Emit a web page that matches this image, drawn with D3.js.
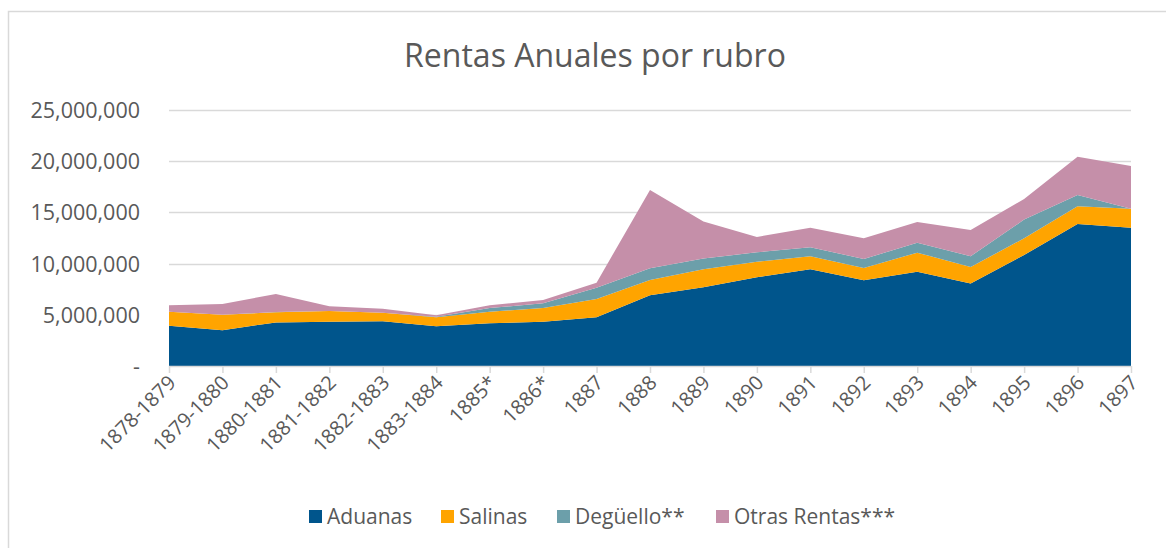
<!DOCTYPE html>
<html>
<head>
<meta charset="utf-8">
<script src="https://cdn.jsdelivr.net/npm/d3@7"></script>
<style>
  body { margin: 0; background: #fff; }
  text { font-family: "Open Sans", "Noto Sans", sans-serif; fill: #595959; }
</style>
</head>
<body>
<svg id="chart" width="1166" height="548"></svg>
<script>
// categories (periods)
var periods = ["1878-1879", "1879-1880", "1880-1881", "1881-1882", "1882-1883", "1883-1884",
  "1885*", "1886*", "1887", "1888", "1889", "1890", "1891", "1892", "1893", "1894", "1895", "1896", "1897"];

// series values (pesos)
var aduanas = [3940000, 3490000, 4260000, 4330000, 4360000, 3870000, 4170000, 4330000, 4750000,
  6900000, 7700000, 8660000, 9440000, 8370000, 9210000, 8050000, 10840000, 13870000, 13500000];
var salinas = [1360000, 1510000, 980000, 1040000, 840000, 900000, 1130000, 1330000, 1790000,
  1500000, 1750000, 1530000, 1270000, 1200000, 1860000, 1620000, 1630000, 1730000, 1860000];
var deguello = [0, 0, 30000, 0, 0, 50000, 360000, 460000, 1110000,
  1140000, 1050000, 910000, 890000, 880000, 970000, 1050000, 1830000, 1100000, 0];
var otras = [630000, 1050000, 1760000, 460000, 400000, 130000, 270000, 330000, 490000,
  7650000, 3600000, 1500000, 1900000, 2020000, 2020000, 2560000, 2000000, 3740000, 4170000];

var seriesNames = ["Aduanas", "Salinas", "Degüello**", "Otras Rentas***"];
var seriesColors = ["#00558c", "#ffa400", "#6c9faa", "#c58fa9"];
var yTicks = [0, 5000000, 10000000, 15000000, 20000000, 25000000];

var rows = periods.map(function(p, i) {
  return { period: p, s0: aduanas[i], s1: salinas[i], s2: deguello[i], s3: otras[i] };
});

var svg = d3.select("#chart");

// chart border (only top and left visible in the crop)
svg.append("path")
    .attr("d", "M8.5,548 L8.5,11.5 L1166,11.5")
    .attr("fill", "none")
    .attr("stroke", "#d9d9d9")
    .attr("stroke-width", 1.5);

svg.append("text")
    .attr("x", 595)
    .attr("y", 67)
    .attr("text-anchor", "middle")
    .style("font-size", "32px")
    .text("Rentas Anuales por rubro");

var x = d3.scalePoint()
    .domain(periods)
    .range([169, 1131]);
var y = d3.scaleLinear()
    .domain([0, 25000000])
    .range([366, 110]);

// gridlines
svg.append("g")
  .selectAll("line")
  .data(yTicks.slice(1))
  .enter().append("line")
    .attr("x1", 169)
    .attr("x2", 1131)
    .attr("y1", function(d) { return Math.round(y(d)) + 0.5; })
    .attr("y2", function(d) { return Math.round(y(d)) + 0.5; })
    .attr("stroke", "#d9d9d9")
    .attr("stroke-width", 1.3);

var stack = d3.stack().keys(["s0", "s1", "s2", "s3"]);
var layers = stack(rows);

var area = d3.area()
    .x(function(d) { return x(d.data.period); })
    .y0(function(d) { return y(d[0]); })
    .y1(function(d) { return y(d[1]); });

svg.append("g")
  .selectAll("path")
  .data(layers)
  .enter().append("path")
    .attr("d", area)
    .attr("fill", function(d, i) { return seriesColors[i]; });

// y axis labels
var fmt = d3.format(",");
svg.append("g")
  .selectAll("text")
  .data(yTicks)
  .enter().append("text")
    .attr("x", 140)
    .attr("y", function(d) { return y(d) + 8; })
    .attr("text-anchor", "end")
    .style("font-size", "21.5px")
    .text(function(d) { return d === 0 ? "-" : fmt(d); });

// x axis
var axisX = d3.axisBottom(x).tickSize(7).tickFormat("");
var gx = svg.append("g")
    .attr("transform", "translate(0,366)")
    .call(axisX);
gx.select(".domain").attr("stroke", "#d9d9d9").attr("stroke-width", 1.5).attr("d", "M169,0.5H1131");
gx.selectAll(".tick line").attr("stroke", "#d9d9d9").attr("stroke-width", 1.5);

svg.append("g")
  .selectAll("text")
  .data(periods)
  .enter().append("text")
    .attr("text-anchor", "end")
    .attr("transform", function(d) { return "translate(" + (x(d) + 8) + ",384) rotate(-45)"; })
    .style("font-size", "20px")
    .text(function(d) { return d; });

// legend
var legendX = [309, 441, 557, 716];
var legend = svg.append("g")
  .selectAll("g")
  .data(seriesNames)
  .enter().append("g")
    .attr("transform", function(d, i) { return "translate(" + legendX[i] + ",510)"; });
legend.append("rect")
    .attr("width", 13)
    .attr("height", 13)
    .attr("fill", function(d, i) { return seriesColors[i]; });
legend.append("text")
    .attr("x", 18)
    .attr("y", 14)
    .style("font-size", "21px")
    .text(function(d) { return d; });
</script>
</body>
</html>
